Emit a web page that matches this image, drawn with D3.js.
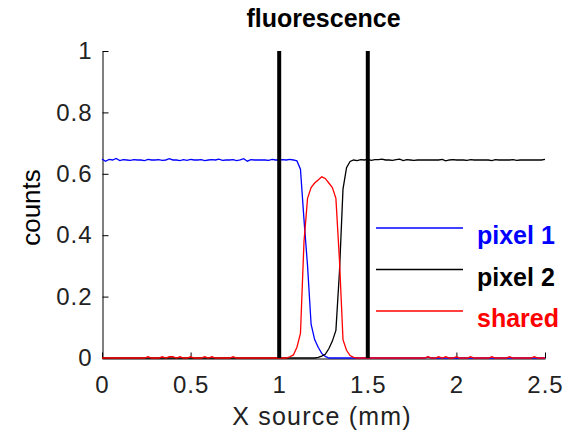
<!DOCTYPE html>
<html>
<head>
<meta charset="utf-8">
<script src="https://cdn.jsdelivr.net/npm/d3@7"></script>
<style>
  body { margin: 0; background: #fff; }
  text { font-family: "Liberation Sans", Arial, sans-serif; }
</style>
</head>
<body>
<svg id="chart" width="579" height="434"></svg>
<script>
// sample spacing of the source traces (mm)
const step = 0.02

const pixel1 = [
  0.648,0.641,0.647,0.645,0.650,0.643,0.646,0.645,0.644,0.646,
  0.645,0.645,0.643,0.647,0.645,0.645,0.646,0.644,0.645,0.649,
  0.645,0.645,0.643,0.646,0.644,0.647,0.645,0.645,0.646,0.643,
  0.645,0.646,0.645,0.648,0.644,0.645,0.645,0.646,0.643,0.645,
  0.649,0.641,0.646,0.645,0.645,0.645,0.645,0.644,0.647,0.645,
  0.645,0.646,0.645,0.647,0.645,0.642,0.615,0.45,0.30,0.11,
  0.06,0.035,0.015,0.005,0,0,0,0,0,0,
  0,0,0,0,0,0,0,0,0,0,
  0,0,0,0,0,0,0,0,0,0,
  0,0,0.003,0,0,0,0,0,0,0,
  0,0,0,0,0,0,0,0,0,0,
  0,0,0,0,0,0,0,0,0,0,
  0,0,0,0,0,0
]

const pixel2 = [
  0,0,0,0,0,0,0,0,0,0,
  0,0,0,0,0,0,0,0,0,0,
  0,0,0,0,0,0,0,0,0,0,
  0,0,0,0,0,0,0,0,0,0,
  0,0,0,0,0,0,0,0,0,0,
  0,0,0,0,0,0,0,0,0,0,
  0,0.002,0.006,0.012,0.03,0.055,0.09,0.28,0.55,0.62,
  0.64,0.645,0.643,0.646,0.645,0.647,0.644,0.646,0.646,0.648,
  0.645,0.645,0.644,0.646,0.648,0.643,0.646,0.645,0.644,0.645,
  0.645,0.645,0.645,0.645,0.645,0.645,0.647,0.642,0.645,0.646,
  0.645,0.645,0.645,0.644,0.646,0.645,0.645,0.645,0.645,0.645,
  0.643,0.646,0.645,0.645,0.645,0.645,0.646,0.644,0.645,0.645,
  0.645,0.645,0.645,0.645,0.645,0.647
]

const shared = [
  0,0,0,0,0,0,0,0,0,0,
  0,0,0,0.004,0,0,0,0.004,0,0.004,
  0.004,0,0.004,0,0,0.004,0,0,0,0.004,
  0,0.004,0,0,0,0,0,0.004,0,0,
  0,0,0,0,0,0,0,0,0,0,
  0,0,0,0.004,0.01,0.035,0.08,0.38,0.52,0.555,
  0.57,0.58,0.59,0.585,0.57,0.555,0.52,0.32,0.06,0.025,
  0.008,0.002,0,0,0,0,0,0,0,0,
  0,0,0,0,0,0,0,0,0,0,
  0,0,0.004,0,0,0.004,0,0.004,0,0,
  0.004,0,0,0,0.004,0,0,0,0,0,
  0.004,0,0,0,0,0.004,0,0,0,0,
  0,0,0.004,0,0,0
]

const markers = [1, 1.5]
const xTicks = [0, 0.5, 1, 1.5, 2, 2.5]
const yTicks = [0, 0.2, 0.4, 0.6, 0.8, 1]
const seriesNames = ["pixel 1", "pixel 2", "shared"]
const seriesColors = ["#0000ff", "#000000", "#ff0000"]

const svg = d3.select("#chart")
const margin = {left: 102, right: 34, top: 51, bottom: 76}
const W = 579, H = 434

const x = d3.scaleLinear().domain([0, 2.5]).range([margin.left, W - margin.right])
const y = d3.scaleLinear().domain([0, 1]).range([H - margin.bottom, margin.top])

// axes, MATLAB style: ticks pointing in, no box
const xAxis = d3.axisBottom(x).tickValues(xTicks).tickFormat(d3.format("")).tickSizeInner(-6).tickSizeOuter(0).tickPadding(17)
const yAxis = d3.axisLeft(y).tickValues(yTicks).tickFormat(d3.format("")).tickSizeInner(-6).tickSizeOuter(0).tickPadding(10)

const gx = svg.append("g").attr("transform", `translate(0,${y(0) + 0.5})`).call(xAxis)
const gy = svg.append("g").attr("transform", `translate(${margin.left + 0.5},0)`).call(yAxis)
svg.selectAll(".tick text").attr("font-size", 24).attr("fill", "#222")
  .attr("letter-spacing", 1)
  .attr("font-family", '"Liberation Sans", Arial, sans-serif')
svg.selectAll(".domain, .tick line").attr("stroke", "#000")

// traces
const series = [pixel1, pixel2, shared]
const line = d3.line().x((d, i) => x(i * step)).y(d => y(d))
series.forEach((vals, k) => {
  svg.append("path")
    .datum(vals)
    .attr("d", line)
    .attr("fill", "none")
    .attr("stroke", seriesColors[k])
    .attr("stroke-width", 1.3)
})

// region boundaries
svg.selectAll(".marker")
  .data(markers)
  .enter().append("line")
  .attr("class", "marker")
  .attr("x1", d => x(d)).attr("x2", d => x(d))
  .attr("y1", y(0)).attr("y2", y(1))
  .attr("stroke", "#000")
  .attr("stroke-width", 4)

// title + labels
svg.append("text")
  .attr("x", (x(0) + x(2.5)) / 2).attr("y", 27)
  .attr("text-anchor", "middle")
  .attr("font-size", 25).attr("font-weight", "bold")
  .text("fluorescence")

svg.append("text")
  .attr("x", 322).attr("y", 425)
  .attr("text-anchor", "middle")
  .attr("font-size", 25).attr("letter-spacing", 1.2)
  .attr("fill", "#222")
  .text("X source (mm)")

svg.append("text")
  .attr("transform", `translate(40,${(y(0) + y(1)) / 2 + 3}) rotate(-90)`)
  .attr("text-anchor", "middle")
  .attr("font-size", 26)
  .text("counts")

// legend
const legend = svg.append("g")
seriesNames.forEach((name, k) => {
  const ly = 228 + k * 41.5
  legend.append("line")
    .attr("x1", 376).attr("x2", 463)
    .attr("y1", ly).attr("y2", ly)
    .attr("stroke", seriesColors[k]).attr("stroke-width", 1.5)
  legend.append("text")
    .attr("x", 477).attr("y", ly + 16)
    .attr("font-size", 25).attr("font-weight", "bold")
    .attr("fill", seriesColors[k])
    .text(name)
})
</script>
</body>
</html>
